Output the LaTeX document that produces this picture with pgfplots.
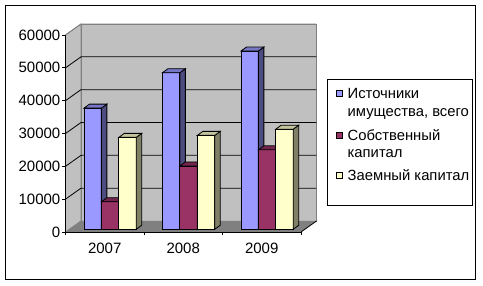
\documentclass[border=0pt]{standalone}
\usepackage{fontspec}
\setmainfont{Liberation Sans}
\usepackage{xfp}
\usepackage{pgfplots}
\usepackage{pgfplotstable}
\pgfplotsset{compat=1.18}
\definecolor{blueF}{HTML}{9999FF}
\definecolor{blueS}{HTML}{4C4C80}
\definecolor{blueT}{HTML}{7676C4}
\definecolor{redF}{HTML}{993366}
\definecolor{redS}{HTML}{4D1A33}
\definecolor{redT}{HTML}{73264D}
\definecolor{yelF}{HTML}{FFFFCC}
\definecolor{yelS}{HTML}{808066}
\definecolor{yelT}{HTML}{C4C49C}
\definecolor{wall}{HTML}{C0C0C0}
\definecolor{floorc}{HTML}{808080}
\definecolor{edge}{HTML}{808080}

\pgfplotstableread{
i blue red yellow
0 36900 8400 28000
1 47700 19300 28600
2 54300 24200 30500
}\data

\newcommand\faces[4]{%
  \foreach \r in {0,1,2} {%
    \pgfplotstablegetelem{\r}{#1}\of\data
    \edef\v{\pgfplotsretval}%
    \edef\vt{\fpeval{\v+1218}}%
    \edef\xl{\fpeval{18.5+78.5*\r+17.4*#2}}%
    \edef\xr{\fpeval{\xl+17.4}}%
    \edef\xll{\fpeval{\xl+5.5}}%
    \edef\xrr{\fpeval{\xr+5.5}}%
    \edef\tmp{%
      \noexpand\addplot[fill=#3, draw=black, line width=0.8pt, forget plot] coordinates {(\xr,0) (\xrr,1218) (\xrr,\vt) (\xr,\v)} -- cycle;
      \noexpand\addplot[fill=#4, draw=black, line width=0.8pt, forget plot] coordinates {(\xl,\v) (\xr,\v) (\xrr,\vt) (\xll,\vt)} -- cycle;
    }\tmp
  }%
}

\pgfplotsset{
  myleg/.style={legend image code/.code={\draw[##1, draw=black, line width=0.8pt] (0pt,2.2pt) rectangle (6pt,8.2pt);}},
}

\begin{document}
\begin{tikzpicture}
\begin{axis}[
  at={(65.5pt,54pt)}, anchor=south west,
  scale only axis, width=235.5pt, height=197pt,
  xmin=0, xmax=235.5, ymin=-822, ymax=59178,
  clip=false, axis on top,
  axis x line=bottom, axis y line=left,
  axis line style={-, black, line width=0.8pt},
  tick align=outside, major tick length=3.5pt,
  tick style={black, line width=0.8pt},
  scaled y ticks=false,
  ytick={-822,9178,19178,29178,39178,49178,59178},
  yticklabels={0,10000,20000,30000,40000,50000,60000},
  xtick={0,78.5,157,235.5}, xticklabels={},
  extra x ticks={39.25,117.75,196.25},
  extra x tick labels={2007,2008,2009},
  extra x tick style={major tick length=0pt},
  tick label style={font=\fontsize{15}{17}\selectfont},
  yticklabel style={anchor=east, inner sep=0pt, xshift=-1.5pt},
  xticklabel style={anchor=base, inner sep=0pt, yshift=-21.5pt},
  legend style={draw=none, fill=none, at={(axis description cs:1.1473,0.7406)}, anchor=north west,
    inner sep=0pt, row sep=6.2pt, font=\fontsize{14.8}{17.7}\selectfont,
    cells={anchor=base west},
    nodes={inner sep=0pt, text depth={}, anchor=base west},
    /tikz/every odd column/.append style={column sep=5pt}},
]
% walls
\addplot[fill=wall, draw=edge, line width=0.8pt, forget plot] coordinates {(15.5,2528) (251,2528) (251,62528) (15.5,62528)} -- cycle;
\addplot[fill=wall, draw=edge, line width=0.8pt, forget plot] coordinates {(0,-822) (15.5,2528) (15.5,62528) (0,59178)} -- cycle;
% gridlines
\addplot[black, line width=0.8pt, forget plot] coordinates {(0,9178) (15.5,12528) (251,12528)};
\addplot[black, line width=0.8pt, forget plot] coordinates {(0,19178) (15.5,22528) (251,22528)};
\addplot[black, line width=0.8pt, forget plot] coordinates {(0,29178) (15.5,32528) (251,32528)};
\addplot[black, line width=0.8pt, forget plot] coordinates {(0,39178) (15.5,42528) (251,42528)};
\addplot[black, line width=0.8pt, forget plot] coordinates {(0,49178) (15.5,52528) (251,52528)};
\addplot[edge, line width=0.8pt, forget plot] coordinates {(0,59178) (15.5,62528) (251,62528)};
% floor
\addplot[fill=floorc, draw=none, forget plot] coordinates {(0,-822) (235.5,-822) (251,2528) (15.5,2528)} -- cycle;
\addplot[black, line width=0.8pt, forget plot] coordinates {(235.5,-822) (251,2528)};

% series
\addplot[ybar, bar width=17.4, bar shift=0pt, fill=blueF, draw=black, line width=0.8pt, myleg]
  table[x expr={18.5+78.5*\thisrow{i}+8.7}, y=blue] {\data};
\addlegendentry{\begin{tabular}[t]{@{}l@{}}Источники\\имущества, всего\end{tabular}}
\faces{blue}{0}{blueS}{blueT}
\addplot[ybar, bar width=17.4, bar shift=0pt, fill=redF, draw=black, line width=0.8pt, myleg]
  table[x expr={18.5+78.5*\thisrow{i}+26.1}, y=red] {\data};
\addlegendentry{\begin{tabular}[t]{@{}l@{}}Собственный\\капитал\end{tabular}}
\faces{red}{1}{redS}{redT}
\addplot[ybar, bar width=17.4, bar shift=0pt, fill=yelF, draw=black, line width=0.8pt, myleg]
  table[x expr={18.5+78.5*\thisrow{i}+43.5}, y=yellow] {\data};
\addlegendentry{Заемный капитал}
\faces{yellow}{2}{yelS}{yelT}
\end{axis}
\draw[line width=0.8pt] (5.2pt,6.7pt) rectangle (475.3pt,280.3pt);
\draw[line width=0.8pt] (327.5pt,81pt) rectangle (472.3pt,207pt);
\pgfresetboundingbox
\path[use as bounding box] (0,0) rectangle (483pt,286pt);
\end{tikzpicture}
\end{document}
